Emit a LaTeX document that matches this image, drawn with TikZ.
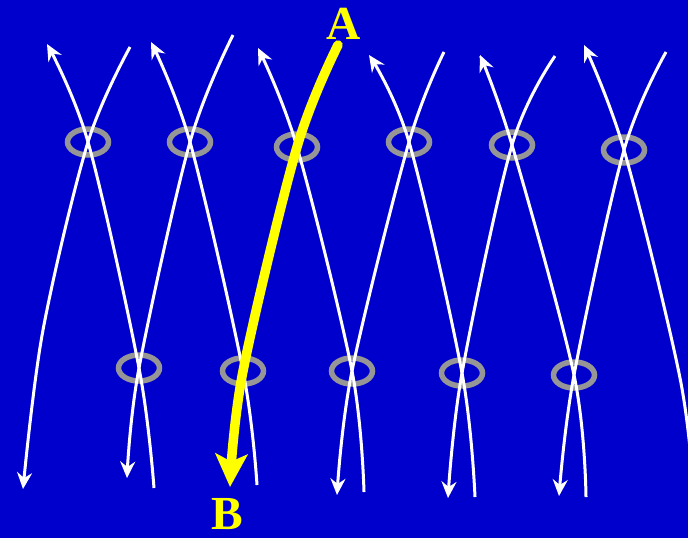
\documentclass[tikz,border=0pt]{standalone}
\usepackage{fontspec}
\setmainfont{Liberation Serif}
\definecolor{fieldBlue}{RGB}{0,0,204}
\definecolor{ringGray}{RGB}{150,150,150}
\definecolor{routeYellow}{RGB}{255,255,0}
\usetikzlibrary{arrows.meta,shapes.geometric}

\begin{document}
\begin{tikzpicture}[x=0.02cm, y=-0.02cm,
  ring/.style={draw=ringGray, line width=0.11cm, ellipse, minimum width=0.82cm,
               minimum height=0.52cm, inner sep=0pt},
  fline/.style={white, line width=0.06cm, smooth, tension=0.55,
                -{Stealth[length=0.33cm, width=0.3cm, inset=0.11cm]}},
  route/.style={routeYellow, line width=0.19cm, smooth, tension=0.55, line cap=round,
                -{Stealth[length=0.66cm, width=0.64cm, inset=0.15cm]}},
  lbl/.style={text=routeYellow, inner sep=0pt, font=\fontsize{27}{30}\selectfont\bfseries}
]
  \useasboundingbox[fill=fieldBlue] (0,0) rectangle (688,538);
  \clip (0,0) rectangle (688,538);

  \node[ring] (u1) at (88,142) {};
  \node[ring] (u2) at (190,142) {};
  \node[ring] (u3) at (297,147) {};
  \node[ring] (u4) at (409,142) {};
  \node[ring] (u5) at (512,145) {};
  \node[ring] (u6) at (624,150) {};
  \node[ring] (l1) at (139,368) {};
  \node[ring] (l2) at (243,371) {};
  \node[ring] (l3) at (352,371) {};
  \node[ring] (l4) at (462,373) {};
  \node[ring] (l5) at (574,375) {};

  \draw[fline] plot coordinates {(154,488) (l1.center) (u1.center) (47,44)};
  \draw[fline] plot coordinates {(257,485) (l2.center) (u2.center) (151,42)};
  \draw[fline] plot coordinates {(364,492) (l3.center) (u3.center) (258,48)};
  \draw[fline] plot coordinates {(475,497) (l4.center) (u4.center) (369,55)};
  \draw[fline] plot coordinates {(586,497) (l5.center) (u5.center) (480,55)};
  \draw[fline] plot coordinates {(694,500) (680,378) (u6.center) (584,45)};

  \draw[fline] plot coordinates {(130,47) (u1.center) (43,330) (23,489)};
  \draw[fline] plot coordinates {(233,35) (u2.center) (l1.center) (127,478)};
  \draw[fline] plot coordinates {(444,52) (u4.center) (l3.center) (337,495)};
  \draw[fline] plot coordinates {(555,56) (u5.center) (l4.center) (448,498)};
  \draw[fline] plot coordinates {(666,52) (u6.center) (l5.center) (559,496)};

  \node[lbl] (A) at (344,24) {A};
  \node[lbl] (B) at (227,514) {B};

  \draw[route] plot coordinates {(338,45) (u3.center) (l2.center) (230,487)};
\end{tikzpicture}
\end{document}
